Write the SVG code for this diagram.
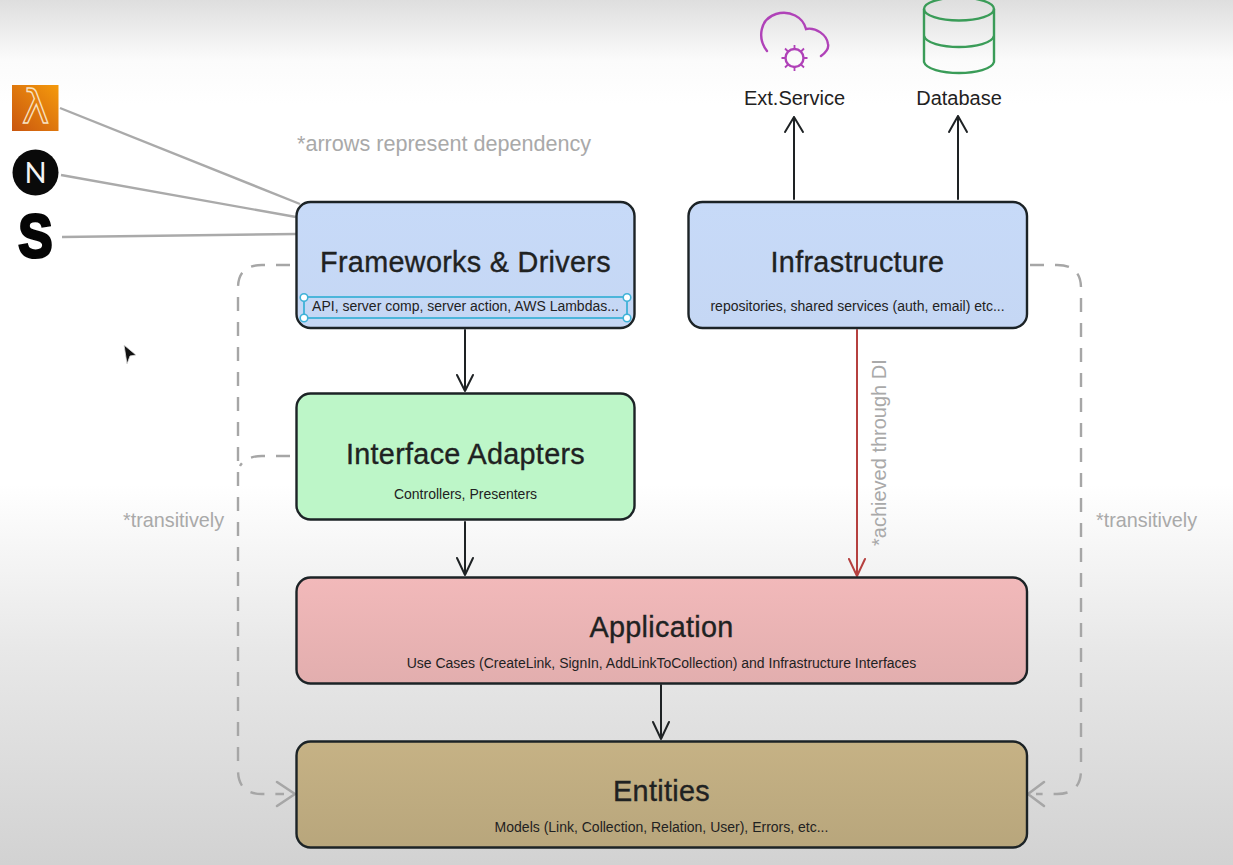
<svg xmlns="http://www.w3.org/2000/svg" width="1233" height="865" viewBox="0 0 1233 865">
<defs>
<linearGradient id="bg" x1="0" y1="0" x2="0" y2="1">
<stop offset="0" stop-color="#dedede"/><stop offset="0.07" stop-color="#fbfbfb"/><stop offset="0.12" stop-color="#ffffff"/><stop offset="0.56" stop-color="#ffffff"/><stop offset="0.75" stop-color="#e8e8e8"/><stop offset="1" stop-color="#d2d2d2"/>
</linearGradient>
<linearGradient id="lam" x1="1" y1="0" x2="0" y2="1"><stop offset="0" stop-color="#f59a0c"/><stop offset="1" stop-color="#c9560f"/></linearGradient>
<linearGradient id="blue" x1="0" y1="0" x2="0" y2="1"><stop offset="0" stop-color="#c7daf8"/><stop offset="1" stop-color="#c5d7f4"/></linearGradient>
<linearGradient id="red" x1="0" y1="0" x2="0" y2="1"><stop offset="0" stop-color="#f2b9ba"/><stop offset="1" stop-color="#e2aeae"/></linearGradient>
<linearGradient id="tan" x1="0" y1="0" x2="0" y2="1"><stop offset="0" stop-color="#c6b285"/><stop offset="1" stop-color="#b8a67c"/></linearGradient>
</defs>
<style>
.box{stroke:#1c2326;stroke-width:2.4}
.t{font-family:"Liberation Sans",Arial,sans-serif;fill:#1f2222;text-anchor:middle}
.h{font-size:28.8px;letter-spacing:.3px;stroke:#1f2222;stroke-width:.35}
.s{font-size:14px}
.n{font-family:"Liberation Sans",Arial,sans-serif;fill:#a9a9a9;font-size:20px}
.dep{fill:none;stroke:#1e2224;stroke-width:2;stroke-linecap:round;stroke-linejoin:round}
.gl{fill:none;stroke:#aaaaaa;stroke-width:2.4}
.dash{fill:none;stroke:#a6a6a6;stroke-width:2.4;stroke-dasharray:14 11}
.dh{fill:none;stroke:#a6a6a6;stroke-width:2.6;stroke-linecap:round;stroke-linejoin:round}
.hd{fill:#fff;stroke:#3fb2d8;stroke-width:1.6}
.lb{font-family:"Liberation Sans",Arial,sans-serif;font-size:20px;fill:#1f2222;text-anchor:middle}
</style>
<rect width="1233" height="865" fill="url(#bg)"/>

<g id="connectors">
<path class="gl" d="M60 108L300 204"/>
<path class="gl" d="M61 175L296 217"/>
<path class="gl" d="M62 237L296 234"/>
<path class="dash" d="M290 265H262Q238 265 238 288V770Q238 794 262 794H284"/>
<path class="dash" d="M290 456H262Q246 456 240 466"/>
<path class="dh" d="M277 782L295 794L277 806"/>
<path class="dash" d="M1030 265H1057Q1081 265 1081 288V770Q1081 794 1057 794H1036"/>
<path class="dh" d="M1044 782L1028 794L1044 806"/>
<path class="dep" d="M465 330V391M457 375L465 391L473 375"/>
<path class="dep" d="M465 522V575M457 558L465 575L473 558"/>
<path class="dep" d="M661 685V739M653 722L661 739L669 722"/>
<path class="dep" d="M794 199V117M785 132L794 117L803 132"/>
<path class="dep" d="M958 199V116M949 132L958 116L967 132"/>
<path class="dep" style="stroke:#b5403f" d="M857 330V576M849 559L857 576L865 559"/>
</g>

<g id="lambda-icon">
<rect x="12" y="85" width="46.500" height="46" fill="url(#lam)"/>
<text x="35.500" y="123" font-family="DejaVu Sans,sans-serif" font-size="46" text-anchor="middle" fill="none" stroke="#f8e3c4" stroke-width="1.300">λ</text>
</g>
<g id="next-icon">
<circle cx="35.500" cy="172.500" r="23" fill="#0a0a0a"/>
<text x="35.500" y="183" font-family="Lato,sans-serif" font-weight="400" font-size="29" text-anchor="middle" fill="#f4f4f4">N</text>
</g>
<g id="s-icon">
<text transform="translate(35.500 257) scale(.83 1)" x="0" y="0" font-family="Liberation Sans,sans-serif" font-weight="700" font-size="62" text-anchor="middle" fill="#050505" stroke="#050505" stroke-width="3">S</text>
</g>

<g id="ext-service">
<path d="M767 51C757 38 760 19 776 14C790 10 803 17 806 29C816 27 827 35 828 44C829 48 825 53 821 56" fill="none" stroke="#b042b8" stroke-width="2.400" stroke-linecap="round"/>
<circle cx="794.500" cy="58" r="9" fill="none" stroke="#b042b8" stroke-width="2.400"/>
<path d="M794.500 45V49M794.500 67V71M781.500 58H785.500M803.500 58H807.500M785 48.500L788 51.500M801 64.500L804 67.500M785 67.500L788 64.500M801 51.500L804 48.500" stroke="#b042b8" stroke-width="1.800" fill="none"/>
<text class="lb" x="794.500" y="105">Ext.Service</text>
</g>
<g id="database">
<path d="M924 9V62C926 69 942 73 959 73C976 73 992 69 994 62V9" fill="none" stroke="#3a9c58" stroke-width="2.400"/>
<ellipse cx="959" cy="9" rx="35" ry="11.500" fill="none" stroke="#3a9c58" stroke-width="2.400"/>
<path d="M924 36C926 43 942 47 959 47C976 47 992 43 994 36" fill="none" stroke="#3a9c58" stroke-width="2.400"/>
<text class="lb" x="959" y="105">Database</text>
</g>

<text class="n" x="297" y="151" style="font-size:21.600px">*arrows represent dependency</text>
<text class="n" x="123" y="527" style="font-size:19.800px">*transitively</text>
<text class="n" x="1096" y="527" style="font-size:19.800px">*transitively</text>
<text class="n" transform="translate(886 546) rotate(-90)" x="0" y="0">*achieved through DI</text>

<g id="frameworks">
<rect class="box" x="296.500" y="202" width="338" height="126" rx="14" fill="url(#blue)"/>
<text class="t h" x="465.500" y="272">Frameworks &amp; Drivers</text>
<rect x="304" y="297" width="323" height="21" fill="none" stroke="#3fb2d8" stroke-width="1.800"/>
<circle class="hd" cx="304" cy="297.500" r="3.800"/><circle class="hd" cx="627" cy="297.500" r="3.800"/><circle class="hd" cx="304" cy="318" r="3.800"/><circle class="hd" cx="627" cy="318" r="3.800"/>
<text class="t s" x="465.500" y="311">API, server comp, server action, AWS Lambdas...</text>
</g>
<g id="infrastructure">
<rect class="box" x="688.500" y="202" width="338.500" height="126" rx="14" fill="url(#blue)"/>
<text class="t h" x="857.500" y="272">Infrastructure</text>
<text class="t s" x="857.500" y="311">repositories, shared services (auth, email) etc...</text>
</g>
<g id="interface-adapters">
<rect class="box" x="296.500" y="393.500" width="338" height="126" rx="14" fill="#bdf6c8"/>
<text class="t h" x="465.500" y="464">Interface Adapters</text>
<text class="t s" x="465.500" y="499">Controllers, Presenters</text>
</g>
<g id="application">
<rect class="box" x="296.500" y="577.500" width="730.500" height="106" rx="14" fill="url(#red)"/>
<text class="t h" x="661.500" y="637">Application</text>
<text class="t s" x="661.500" y="668">Use Cases (CreateLink, SignIn, AddLinkToCollection) and Infrastructure Interfaces</text>
</g>
<g id="entities">
<rect class="box" x="296.500" y="741.500" width="730.500" height="106" rx="14" fill="url(#tan)"/>
<text class="t h" x="661.500" y="801">Entities</text>
<text class="t s" x="661.500" y="832">Models (Link, Collection, Relation, User), Errors, etc...</text>
</g>
<path id="cursor" d="M124 345L136 355L130 356L127 364Z" fill="#111" stroke="#ddd" stroke-width="0.800"/>
</svg>
